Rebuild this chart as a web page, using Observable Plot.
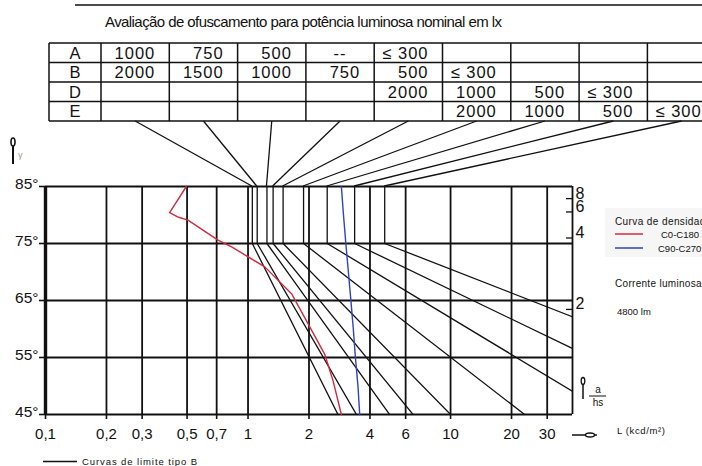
<!DOCTYPE html>
<html><head><meta charset="utf-8">
<script src="https://cdn.jsdelivr.net/npm/d3@7"></script>
<script src="https://cdn.jsdelivr.net/npm/@observablehq/plot@0.6"></script>
<style>
html,body{margin:0;padding:0;background:#fff;}
#wrap{position:relative;width:702px;height:466px;}
#wrap svg{display:block;}
#deco{position:absolute;left:0;top:0;pointer-events:none;}
</style></head><body><div id="wrap"></div>
<script>
// ---------- data ----------
const titleText = "Avaliação de ofuscamento para potência luminosa nominal em lx";
const tableRowLabels = ["A", "B", "D", "E"];
const tableRowA = ["1000", "750", "500", "--", "≤ 300", "", "", "", ""];
const tableRowB = ["2000", "1500", "1000", "750", "500", "≤ 300", "", "", ""];
const tableRowD = ["", "", "", "", "2000", "1000", "500", "≤ 300", ""];
const tableRowE = ["", "", "", "", "", "2000", "1000", "500", "≤ 300"];

const xTickValues = [0.1, 0.2, 0.3, 0.5, 0.7, 1, 2, 4, 6, 10, 20, 30];
const xTickLabels = ["0,1", "0,2", "0,3", "0,5", "0,7", "1", "2", "4", "6", "10", "20", "30"];
const yTickValues = [45, 55, 65, 75, 85];
const yTickLabels = ["45°", "55°", "65°", "75°", "85°"];
const ahsValues = [2, 4, 6, 8];
const ahsLabels = ["2", "4", "6", "8"];

// limit curves (type B): luminance (kcd/m²) of the vertical part (85°–75°) and at 45°
const limitCurveIds = ["a", "b", "c", "d", "e", "f", "g", "h", "i"];
const limitLTop = [1.05, 1.11, 1.24, 1.33, 1.49, 1.88, 2.46, 3.36, 4.73];
const limitL45 = [2.78, 3.43, 5.0, 6.53, 10, 23.2, 62, 190, 690];

// luminance curves
const redAngles = [85, 80.4, 79.6, 79.1, 75.6, 74.4, 70.9, 66.2, 60.9, 55.6, 50.9, 45];
const redL = [0.496, 0.41, 0.454, 0.505, 0.711, 0.83, 1.21, 1.64, 1.98, 2.39, 2.63, 2.89];
const blueAngles = [85, 80, 75, 70, 65, 60, 55, 50, 45];
const blueL = [2.89, 2.96, 3.04, 3.13, 3.22, 3.31, 3.39, 3.49, 3.56];

const legendTitle = "Curva de densidade luminosa";
const legendRed = "C0-C180";
const legendBlue = "C90-C270";
const fluxTitle = "Corrente luminosa";
const fluxValue = "4800 lm";
const captionText = "Curvas de limite tipo B";
const xUnitText = "L (kcd/m²)";

// ---------- build ----------
const FONT = "'Liberation Sans', Arial, sans-serif";
const limitRows = [];
limitCurveIds.forEach((id, i) => {
  limitRows.push({id, L: limitLTop[i], g: 85});
  limitRows.push({id, L: limitLTop[i], g: 75});
  limitRows.push({id, L: limitL45[i], g: 45});
});
const red = redAngles.map((g, i) => ({g, L: redL[i]}));
const blue = blueAngles.map((g, i) => ({g, L: blueL[i]}));
const deg = v => Math.atan(v) * 180 / Math.PI;

const W = 702, H = 466, mL = 45, mR = 130, mT = 186, mB = 52;
const frameW = W - mL - mR, frameH = H - mT - mB;

const plot = Plot.plot({
  width: W, height: H,
  marginLeft: mL, marginRight: mR, marginTop: mT, marginBottom: mB,
  style: {fontFamily: FONT, fontSize: "15px", background: "white", color: "#111"},
  x: {type: "log", domain: [0.1, 40], axis: null},
  y: {domain: [45, 85], axis: null},
  marks: [
    // grid
    Plot.ruleX(xTickValues.slice(1), {stroke: "#111", strokeWidth: 1.8}),
    Plot.ruleX([40], {stroke: "#111", strokeWidth: 1.8}),
    Plot.ruleY(yTickValues, {stroke: "#111", strokeWidth: 1.8}),
    Plot.ruleX([0.1], {stroke: "#111", strokeWidth: 3.4}),
    // axis ticks and labels
    Plot.ruleX(xTickValues, {stroke: "#111", strokeWidth: 1.6, insetTop: frameH, insetBottom: -5}),
    Plot.text(xTickValues, {x: d => d, frameAnchor: "bottom", dy: 14, lineAnchor: "top",
      text: (d, i) => xTickLabels[i], fontSize: 15, fill: "#111"}),
    Plot.ruleY(yTickValues, {stroke: "#111", strokeWidth: 1.6, insetLeft: -6, insetRight: frameW}),
    Plot.text(yTickValues, {y: d => d, frameAnchor: "left", dx: -7, dy: -2, textAnchor: "end",
      text: (d, i) => yTickLabels[i], fontSize: 15.5, fill: "#111"}),
    // curves
    Plot.line(limitRows, {x: "L", y: "g", z: "id", stroke: "#111", strokeWidth: 1.3, clip: true}),
    Plot.line(red, {x: "L", y: "g", stroke: "#d22b3f", strokeWidth: 1.4}),
    Plot.line(blue, {x: "L", y: "g", stroke: "#3140c4", strokeWidth: 1.4}),
    // a/hs scale on the right
    Plot.ruleY(ahsValues, {y: deg, insetLeft: frameW - 6, stroke: "#111", strokeWidth: 1.3}),
    Plot.text(ahsValues, {y: deg, frameAnchor: "right", dx: 3, textAnchor: "start", lineAnchor: "bottom",
      text: (d, i) => ahsLabels[i], fontSize: 16, fill: "#111"})
  ]
});
const wrap = document.getElementById("wrap");
wrap.appendChild(plot);

// the same scales, built with Plot.scale, for the decorations that link to the data
let sx, sy;
try {
  const a = Plot.scale({x: {type: "log", domain: [0.1, 40], range: [mL, W - mR]}});
  const b = Plot.scale({y: {type: "linear", domain: [45, 85], range: [H - mB, mT]}});
  sx = v => a.apply(v); sy = v => b.apply(v);
} catch (e) { sx = d3.scaleLog([0.1, 40], [mL, W - mR]); sy = d3.scaleLinear([45, 85], [H - mB, mT]); }

// decorations in an overlay svg
const svg = d3.select(wrap).append("svg").attr("id", "deco").attr("width", W).attr("height", H)
  .attr("viewBox", `0 0 ${W} ${H}`);
const g = svg.append("g").attr("font-family", FONT).attr("fill", "#111").attr("text-anchor", "start");

// top rule and title
g.append("line").attr("x1", 75).attr("x2", 702).attr("y1", 5).attr("y2", 5).attr("stroke", "#111").attr("stroke-width", 1.5);
g.append("text").attr("x", 105).attr("y", 27).attr("font-size", 15)
  .attr("textLength", 397).attr("lengthAdjust", "spacing").text(titleText);

// table
const rowY = [43, 62.5, 82, 101.5, 121];
const colX = [49];
for (let i = 0; i <= 9; i++) colX.push(101 + 68.3 * i);
const tg = g.append("g").attr("stroke", "#111").attr("stroke-width", 1.5);
rowY.forEach(y => tg.append("line").attr("x1", 49).attr("x2", colX[10]).attr("y1", y).attr("y2", y));
colX.forEach(x => tg.append("line").attr("x1", x).attr("x2", x).attr("y1", 43).attr("y2", 121));
const rows = [tableRowA, tableRowB, tableRowD, tableRowE];
rows.forEach((row, r) => {
  const base = rowY[r + 1] - 4;
  g.append("text").attr("x", 75).attr("y", base).attr("text-anchor", "middle").attr("font-size", 16.5).text(tableRowLabels[r]);
  row.forEach((v, c) => {
    if (!v) return;
    const t = g.append("text").attr("y", base).attr("font-size", 16.5).attr("letter-spacing", 1);
    if (v === "--") t.attr("x", (colX[c + 1] + colX[c + 2]) / 2).attr("text-anchor", "middle");
    else t.attr("x", colX[c + 2] - 14).attr("text-anchor", "end");
    t.text(v);
  });
});

// fan lines from table columns to the limit curves
limitCurveIds.forEach((id, i) => {
  g.append("line").attr("x1", 101 + 68.3 * (i + 0.5)).attr("y1", 121)
    .attr("x2", sx(limitLTop[i])).attr("y2", sy(85))
    .attr("stroke", "#111").attr("stroke-width", 1.3);
});

// gamma symbol (top left)
g.append("line").attr("x1", 13).attr("x2", 13).attr("y1", 146).attr("y2", 164).attr("stroke", "#111").attr("stroke-width", 2);
g.append("ellipse").attr("cx", 13).attr("cy", 142).attr("rx", 2).attr("ry", 4).attr("fill", "#fff").attr("stroke", "#111").attr("stroke-width", 1.6);
g.append("text").attr("x", 18).attr("y", 158).attr("font-size", 9).attr("fill", "#999").text("γ");

// L symbol (bottom right)
g.append("line").attr("x1", 572).attr("x2", 597).attr("y1", 435).attr("y2", 435).attr("stroke", "#111").attr("stroke-width", 1.5);
g.append("ellipse").attr("cx", 590).attr("cy", 435).attr("rx", 4.5).attr("ry", 2).attr("fill", "#fff").attr("stroke", "#111").attr("stroke-width", 1.3);
g.append("text").attr("x", 617).attr("y", 434).attr("font-size", 9.5).attr("textLength", 48).attr("lengthAdjust", "spacing").text(xUnitText);

// a/hs symbol
g.append("line").attr("x1", 583).attr("x2", 583).attr("y1", 383).attr("y2", 399).attr("stroke", "#111").attr("stroke-width", 1.5);
g.append("ellipse").attr("cx", 583).attr("cy", 381).attr("rx", 1.8).attr("ry", 3.5).attr("fill", "#fff").attr("stroke", "#111").attr("stroke-width", 1.3);
g.append("text").attr("x", 598).attr("y", 393).attr("font-size", 10).attr("text-anchor", "middle").text("a");
g.append("line").attr("x1", 589).attr("x2", 606).attr("y1", 396).attr("y2", 396).attr("stroke", "#111").attr("stroke-width", 1);
g.append("text").attr("x", 598).attr("y", 406).attr("font-size", 10).attr("text-anchor", "middle").text("hs");

// legend
g.append("rect").attr("x", 605).attr("y", 208).attr("width", 100).attr("height", 49).attr("fill", "#f5f5f5").attr("fill-opacity", 0.9);
g.append("text").attr("x", 615).attr("y", 225).attr("font-size", 10).attr("letter-spacing", 0.4).text(legendTitle);
g.append("line").attr("x1", 615).attr("x2", 643).attr("y1", 234).attr("y2", 234).attr("stroke", "#d22b3f").attr("stroke-width", 1.5);
g.append("text").attr("x", 661).attr("y", 237.5).attr("font-size", 9.5).text(legendRed);
g.append("line").attr("x1", 615).attr("x2", 643).attr("y1", 248).attr("y2", 248).attr("stroke", "#3140c4").attr("stroke-width", 1.5);
g.append("text").attr("x", 658).attr("y", 251.5).attr("font-size", 9.5).text(legendBlue);
g.append("text").attr("x", 615).attr("y", 287).attr("font-size", 10).attr("letter-spacing", 0.3).text(fluxTitle);
g.append("text").attr("x", 617).attr("y", 314.5).attr("font-size", 9.5).text(fluxValue);

// caption
g.append("line").attr("x1", 43).attr("x2", 77).attr("y1", 461.5).attr("y2", 461.5).attr("stroke", "#111").attr("stroke-width", 1.3);
g.append("text").attr("x", 82).attr("y", 465).attr("font-size", 9.5).attr("textLength", 115).attr("lengthAdjust", "spacing").text(captionText);
</script>
</body></html>
